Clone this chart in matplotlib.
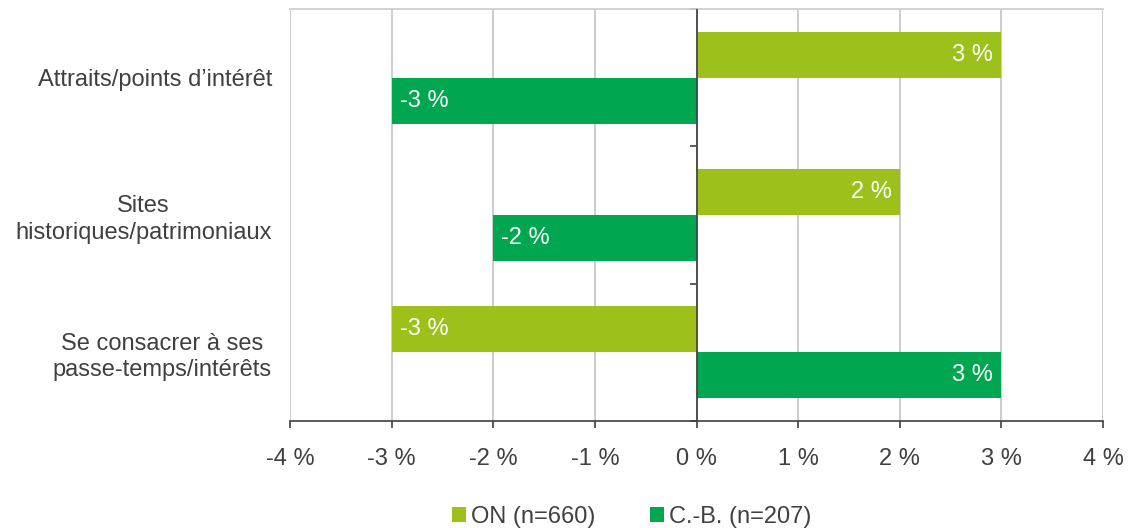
import matplotlib
matplotlib.use("Agg")
import matplotlib.pyplot as plt
import numpy as np

categories = ["Attraits/points d\u2019intérêt", "Sites\nhistoriques/patrimoniaux", "Se consacrer à ses\npasse-temps/intérêts"]
on_values = [3, 2, -3]
cb_values = [-3, -2, 3]
series_labels = ["ON (n=660)", "C.-B. (n=207)"]
xticks = [-4, -3, -2, -1, 0, 1, 2, 3, 4]
xtick_labels = [f"{v} %" for v in xticks]

plt.rcParams['font.family'] = ['Liberation Sans', 'DejaVu Sans']
c_on = "#9DC11A"
c_cb = "#00A650"
txt = "#404040"
fs = 17

fig = plt.figure(figsize=(11.28, 5.28), dpi=100)
ax = fig.add_axes([290/1128, 1-421/528, (1103-290)/1128, (421-9)/528])

y = np.arange(len(categories))
h = 0.335
b1 = ax.barh(y - h/2, on_values, height=h, color=c_on, label=series_labels[0], zorder=3)
b2 = ax.barh(y + h/2, cb_values, height=h, color=c_cb, label=series_labels[1], zorder=3)

for bars, vals in ((b1, on_values), (b2, cb_values)):
    for rect, v in zip(bars, vals):
        yc = rect.get_y() + rect.get_height()/2
        if v >= 0:
            ax.text(v - 0.08, yc, f"{v} %", ha='right', va='center', color='white', fontsize=fs, zorder=4)
        else:
            ax.text(v + 0.08, yc, f"{v} %", ha='left', va='center', color='white', fontsize=fs, zorder=4)

ax.set_xlim(-4, 4)
ax.set_ylim(2.5, -0.5)
ax.set_xticks(xticks)
ax.set_xticklabels(xtick_labels, fontsize=fs, color=txt)
ax.set_yticks(y)
ax.set_yticklabels(categories, fontsize=fs, color=txt, multialignment='center', linespacing=1.25)
ax.tick_params(axis='y', length=0, pad=13)
ax.tick_params(axis='x', length=5, width=1.2, color='#404040', pad=14.5)
ax.grid(axis='x', color='#C8C8C8', linewidth=1.3, zorder=0)
for s in ['left', 'right']:
    ax.spines[s].set_visible(False)
ax.spines['top'].set_color('#CFCFCF')
ax.spines['top'].set_linewidth(1.3)
ax.spines['bottom'].set_color('#404040')
ax.spines['bottom'].set_linewidth(1.2)

sec = ax.secondary_yaxis(0.5)
sec.set_yticks([-0.5, 0.5, 1.5, 2.5])
sec.set_yticklabels([])
sec.yaxis.set_ticks_position('left')
sec.tick_params(length=5, width=1.2, color='#404040', direction='out')
for s in sec.spines.values():
    s.set_visible(False)
sec.spines['left'].set_visible(True)
sec.spines['left'].set_color('#404040')
sec.spines['left'].set_linewidth(1.2)
ax.axvline(0, color='#404040', linewidth=1.2, zorder=5)

leg = fig.legend(handles=[b1, b2], loc='center', bbox_to_anchor=(0.56, 1-516.5/528), ncol=2,
                 frameon=False, fontsize=fs, handlelength=0.62, handleheight=0.62,
                 handletextpad=0.2, columnspacing=2.3)
for t in leg.get_texts():
    t.set_color(txt)

fig.savefig("out.png", dpi=100)
